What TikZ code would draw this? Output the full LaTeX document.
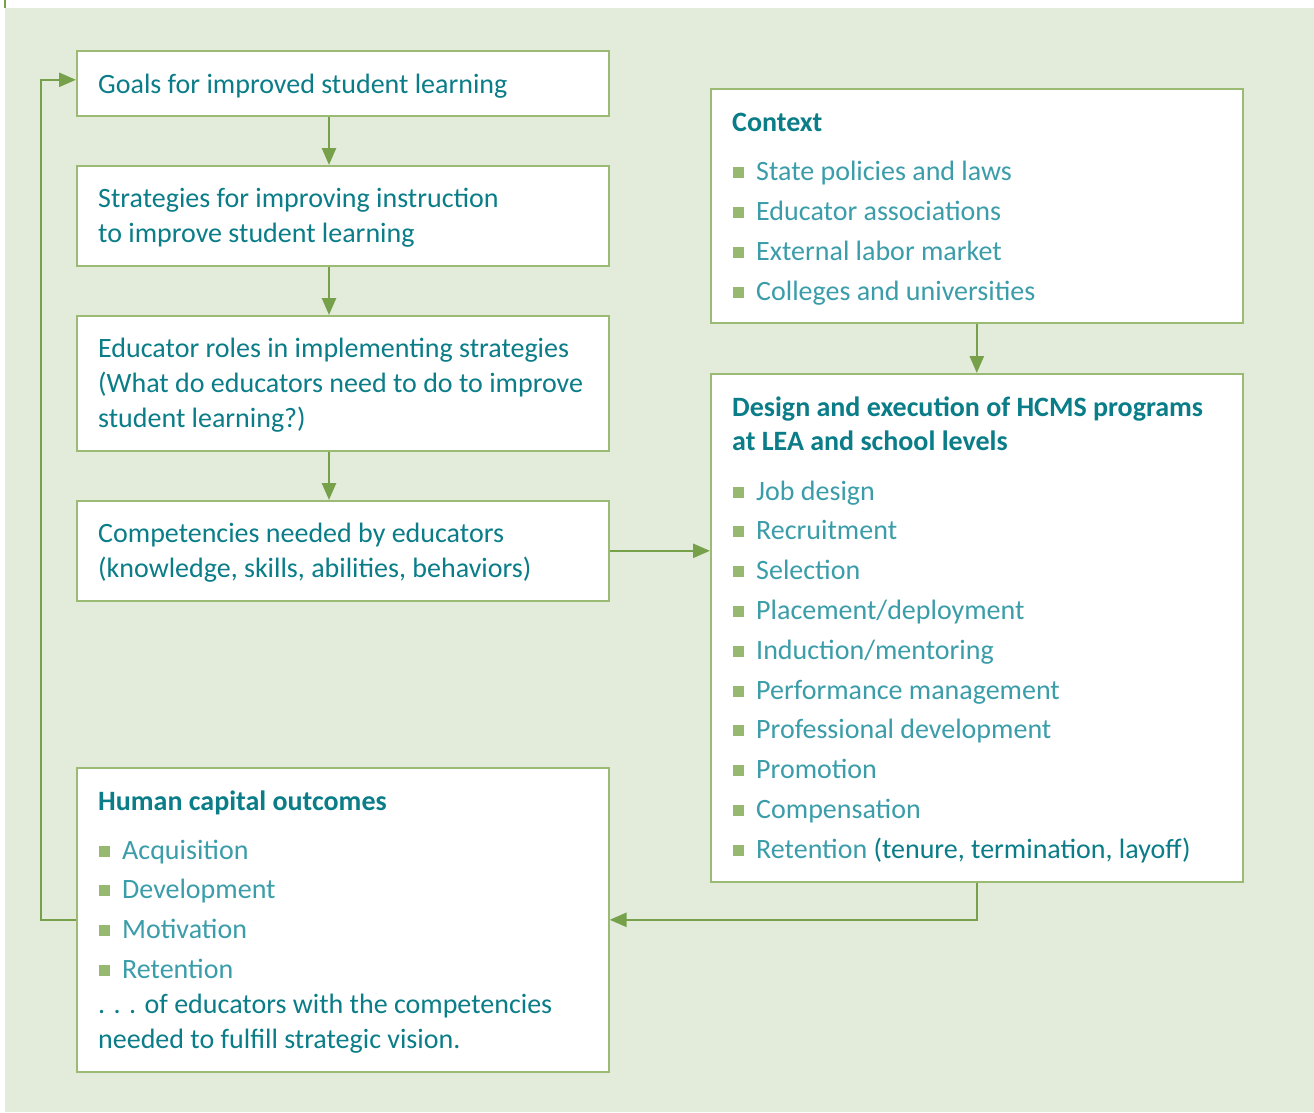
\documentclass[tikz,border=0pt]{standalone}
\usepackage{fontspec}
\setmainfont{Carlito}
\usetikzlibrary{arrows.meta}
\definecolor{bgreen}{HTML}{E3ECDA}
\definecolor{boxline}{HTML}{9BBB74}
\definecolor{arrline}{HTML}{76A14A}
\definecolor{tealdark}{HTML}{0A7D88}
\definecolor{teallight}{HTML}{3A9DA9}
\definecolor{bulletc}{HTML}{97B870}
\begin{document}
\begin{tikzpicture}
[x=1pt,y=-1pt,
box/.style={rectangle,draw=boxline,fill=white,line width=1.6pt,anchor=north west,inner sep=0pt},
txt/.style={anchor=base west,inner sep=0pt,text=tealdark,font=\fontsize{28}{35}\selectfont},
head/.style={txt,font=\fontsize{28}{35}\selectfont\bfseries},
item/.style={txt,text=teallight},
arr/.style={draw=arrline,line width=2.6pt,-{Triangle[length=17pt,width=14pt]}}]
\useasboundingbox (0,0) rectangle (1314,1112);
\fill[bgreen] (5,8) rectangle (1314,1112);
\draw[arrline,line width=2pt] (5,0) -- (5,8);

% left column
\node[box,minimum width=532,minimum height=65] (goals) at (76,50) {};
\node[box,minimum width=532,minimum height=100] (strat) at (76,165) {};
\node[box,minimum width=532,minimum height=135] (roles) at (76,315) {};
\node[box,minimum width=532,minimum height=100] (comp) at (76,500) {};
\node[box,minimum width=532,minimum height=304] (hco) at (76,767) {};
% right column
\node[box,minimum width=532,minimum height=234] (ctx) at (710,88) {};
\node[box,minimum width=532,minimum height=508] (design) at (710,373) {};

\node[txt] (goalst) at (98,93) {Goals for improved student learning};
\node[txt] (strat1) at (98,207) {Strategies for improving instruction};
\node[txt] (strat2) at (98,242) {to improve student learning};
\node[txt] (roles1) at (98,357) {Educator roles in implementing strategies};
\node[txt] (roles2) at (98,392) {(What do educators need to do to improve};
\node[txt] (roles3) at (98,427) {student learning?)};
\node[txt] (comp1) at (98,542) {Competencies needed by educators};
\node[txt] (comp2) at (98,577) {(knowledge, skills, abilities, behaviors)};

\node[head] (ctxt) at (732,131) {Context};
\foreach \t [count=\i] in {State policies and laws, Educator associations, External labor market, Colleges and universities}{
  \fill[bulletc] (733,140+40*\i-13.5) rectangle (744,140+40*\i-2.5);
  \node[item] (ctx\i) at (756,140+40*\i) {\t};
}

\node[head] (des1) at (732,416) {Design and execution of HCMS programs};
\node[head] (des2) at (732,450) {at LEA and school levels};
\foreach \t [count=\i] in {Job design, Recruitment, Selection, Placement/deployment, Induction/mentoring, Performance management, Professional development, Promotion, Compensation, {Retention \textcolor{tealdark}{(tenure, termination, layoff)}}}{
  \fill[bulletc] (733,460.2+39.8*\i-13.5) rectangle (744,460.2+39.8*\i-2.5);
  \node[item] (des\i) at (756,460.2+39.8*\i) {\t};
}

\node[head] (hcot) at (98,810) {Human capital outcomes};
\foreach \t [count=\i] in {Acquisition, Development, Motivation, Retention}{
  \fill[bulletc] (99,819.3+39.7*\i-13.5) rectangle (110,819.3+39.7*\i-2.5);
  \node[item] (hco\i) at (122,819.3+39.7*\i) {\t};
}
\node[txt] (hcoa) at (98,1013) {. . . of educators with the competencies};
\node[txt] (hcob) at (98,1048) {needed to fulfill strategic vision.};

% connectors
\coordinate (spine) at (329,0);
\coordinate (loop) at (41,0);
\draw[arr] (goals.south -| spine) -- (strat.north -| spine);
\draw[arr] (strat.south -| spine) -- (roles.north -| spine);
\draw[arr] (roles.south -| spine) -- (comp.north -| spine);
\draw[arr] (ctx.south) -- (design.north);
\draw[arr] (comp.east) -- (design.west |- comp.east);
\draw[arr] (design.south) |- (hco.east);
\draw[arr] (hco.west) -- (hco.west -| loop) |- ([yshift=3.5]goals.west);
\end{tikzpicture}
\end{document}
